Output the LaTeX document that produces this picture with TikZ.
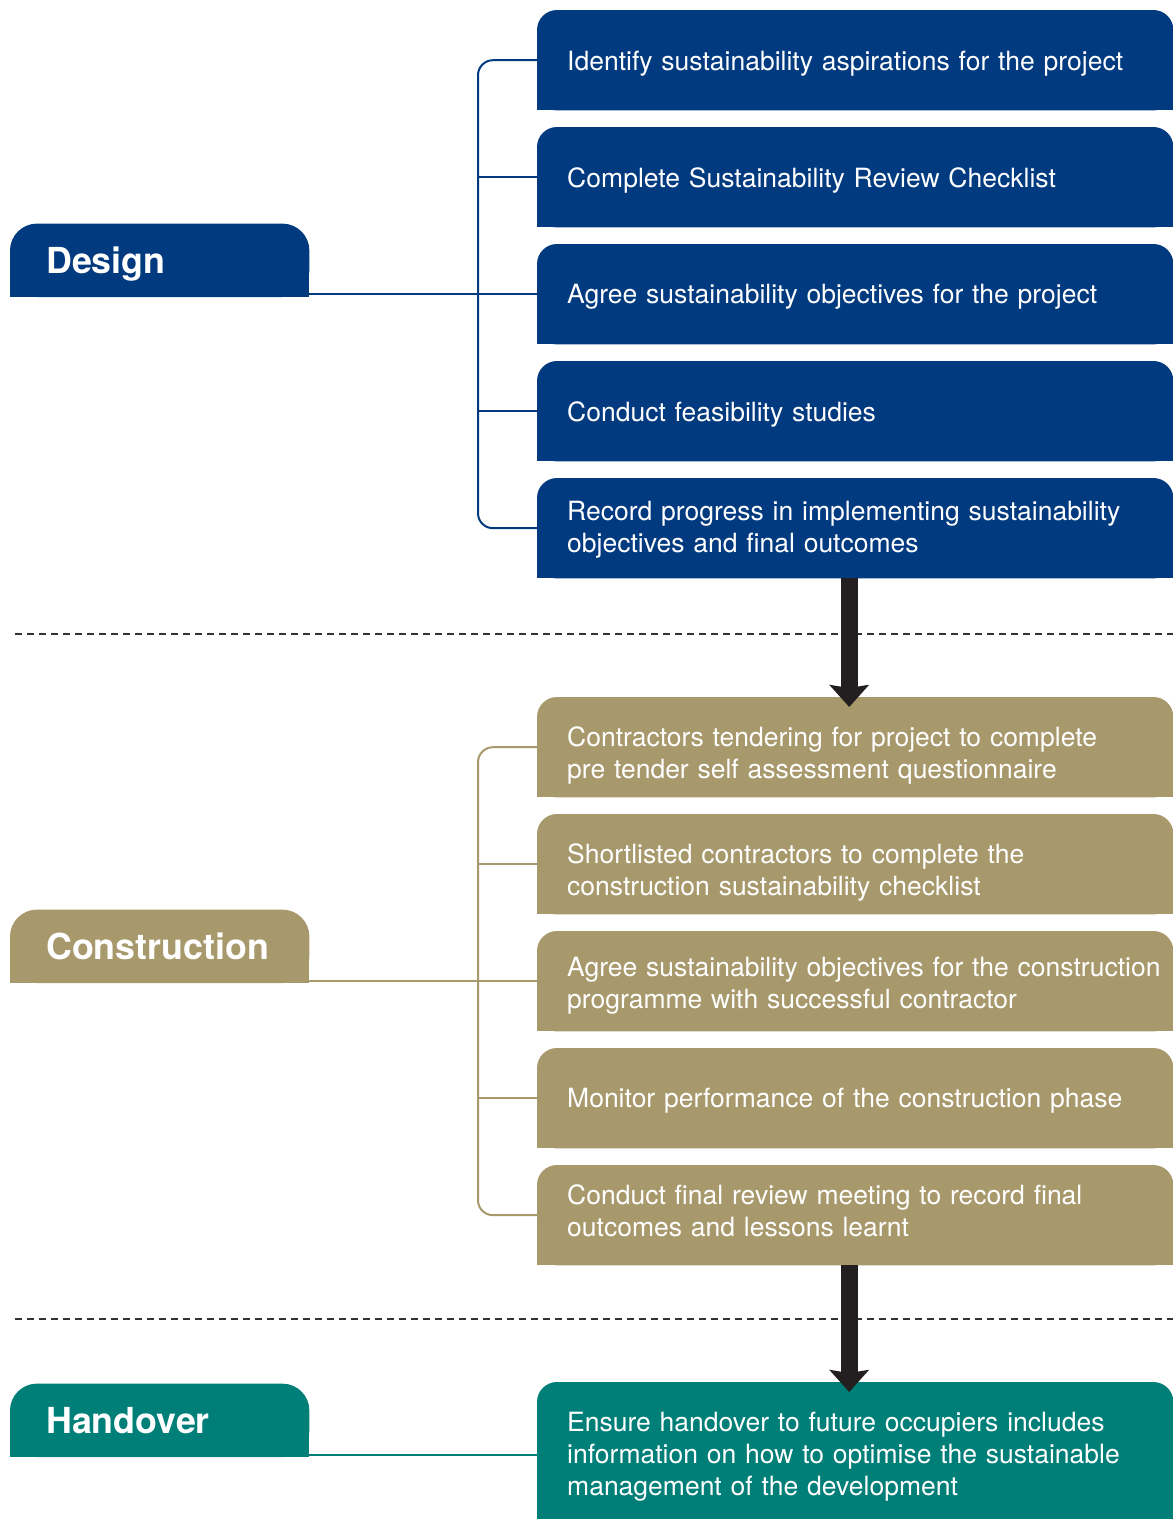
\documentclass[tikz,border=0pt]{standalone}
\usepackage{fontspec}
\setmainfont{TeX Gyre Heros}
\usepackage{tikz}
\usetikzlibrary{arrows.meta,backgrounds}
\definecolor{designblue}{RGB}{2,58,128}
\definecolor{buildtan}{RGB}{168,153,108}
\definecolor{handteal}{RGB}{0,126,120}
\definecolor{arrowdark}{RGB}{35,31,32}

\begin{document}
\begin{tikzpicture}[x=1pt, y=-1pt,
  stepbox/.style={anchor=north west, minimum width=636pt, minimum height=100pt,
    inner xsep=30pt, text width=576pt, align=left, text=white,
    font=\fontsize{26.5}{32}\selectfont},
  drop/.style={execute at begin node={\rule{0pt}{#1}}},
  rise/.style={execute at end node={\rule[-#1]{0pt}{#1}}},
  phasetab/.style={anchor=south west, minimum width=299pt, minimum height=73pt,
    inner xsep=36pt, text width=227pt, align=left, text height=26pt, text depth=0pt,
    text=white, font=\fontsize{35.8}{40}\selectfont\bfseries},
  link/.style={line width=2pt},
  flow/.style={line width=17pt, arrowdark, -{Stealth[width=39pt,length=22pt,inset=3pt]}},
  sep/.style={dash pattern=on 7pt off 5pt, line width=1.2pt, black!80}
]
\useasboundingbox (0,0) rectangle (1173,1519);

% 阶段标签
\node[phasetab] (design) at (10,297) {Design};
\node[phasetab] (build) at (10,983) {Construction};
\node[phasetab] (hand) at (10,1457) {Handover};

% 设计阶段 - 5个步骤
\node[stepbox, drop=25.5pt] (d1) at (537,10) {Identify sustainability aspirations for the project};
\node[stepbox, drop=25.5pt] (d2) at (537,127) {Complete Sustainability Review Checklist};
\node[stepbox, drop=24pt] (d3) at (537,244) {Agree sustainability objectives for the project};
\node[stepbox, drop=25.5pt] (d4) at (537,361) {Conduct feasibility studies};
\node[stepbox, drop=21.5pt] (d5) at (537,478) {Record progress in implementing sustainability\\objectives and final outcomes};

% 施工阶段 - 5个步骤
\node[stepbox, drop=35.5pt] (c1) at (537,697) {Contractors tendering for project to complete\\pre tender self assessment questionnaire};
\node[stepbox, drop=35.5pt] (c2) at (537,814) {Shortlisted contractors to complete the\\construction sustainability checklist};
\node[stepbox, drop=27.5pt] (c3) at (537,931) {\mbox{Agree sustainability objectives for the construction}\\programme with successful contractor};
\node[stepbox, drop=24pt] (c4) at (537,1048) {Monitor performance of the construction phase};
\node[stepbox, rise=10pt] (c5) at (537,1165) {Conduct final review meeting to record final\\outcomes and lessons learnt};

% 交付阶段
\node[stepbox, minimum height=146pt, drop=22pt] (h1) at (537,1382) {Ensure handover to future occupiers includes\\information on how to optimise the sustainable\\management of the development};

% 底色 - 上方圆角
\begin{scope}[on background layer]
\foreach \n/\c in {d1/designblue, d2/designblue, d3/designblue, d4/designblue, d5/designblue,
                   c1/buildtan, c2/buildtan, c3/buildtan, c4/buildtan, c5/buildtan, h1/handteal} {
  \fill[\c, rounded corners=20pt] (\n.south west) rectangle (\n.north east);
  \fill[\c] (\n.south west) rectangle (\n.east);
}
\foreach \n/\c in {design/designblue, build/buildtan, hand/handteal} {
  \fill[\c, rounded corners=27pt] (\n.south west) rectangle (\n.north east);
  \fill[\c] (\n.south west) rectangle (\n.east);
}
% 分隔虚线
\draw[sep] (15,634) -- (1173,634);
\draw[sep] (15,1319) -- (1173,1319);
\end{scope}

% 设计阶段连线
\draw[link, designblue, rounded corners=15pt] (d1.west) -- ++(-59,0) |- (d5.west);
\foreach \i in {2,3,4}
    \draw[link, designblue] (d\i.west) -- ++(-59,0);
\draw[link, designblue] (design.east |- d3.west) -- (d3.west);

% 施工阶段连线
\draw[link, buildtan, rounded corners=15pt] (c1.west) -- ++(-59,0) |- (c5.west);
\foreach \i in {2,3,4}
    \draw[link, buildtan] (c\i.west) -- ++(-59,0);
\draw[link, buildtan] (build.east |- c3.west) -- (c3.west);

% 交付阶段连线
\draw[link, handteal] (hand.east |- h1.west) -- (h1.west);

% 阶段之间的箭头
\draw[flow] ([xshift=-6pt]d5.south) -- ([xshift=-6pt, yshift=-10pt]c1.north);
\draw[flow] ([xshift=-6pt]c5.south) -- ([xshift=-6pt, yshift=-10pt]h1.north);
\end{tikzpicture}
\end{document}
